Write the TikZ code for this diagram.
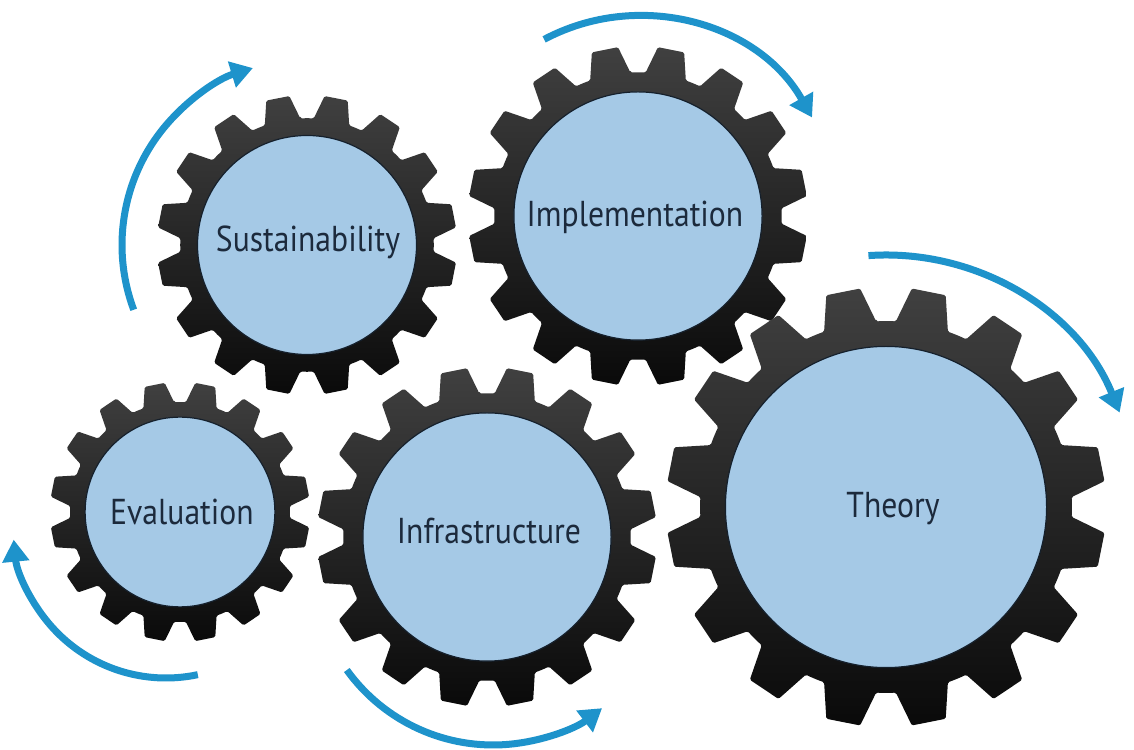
\documentclass[tikz,border=0pt]{standalone}
\usepackage{fontspec}
\newfontfamily\gearfont[FakeStretch=0.88]{PT Sans}
\usetikzlibrary{arrows.meta}
\definecolor{gearblue}{HTML}{A5C9E6}
\definecolor{arrowblue}{HTML}{1E93CB}
\definecolor{textnavy}{HTML}{1C2A3C}
\definecolor{geartop}{HTML}{404040}
\definecolor{gearbot}{HTML}{0A0A0A}
\definecolor{rimline}{HTML}{15202C}

\tikzset{
  gearface/.style={circle, fill=gearblue, draw=rimline, line width=1.2pt, inner sep=0pt},
  gearlabel/.style={inner sep=0pt, font=\gearfont\fontsize{36}{40}\selectfont, text=textnavy},
  turnarrow/.style={draw=arrowblue, line width=7pt, -{Triangle[length=22pt,width=26pt]}},
}

% #1 name, #2 x, #3 y, #4 outer radius
\newcommand\drawgear[4]{%
  \begin{scope}[shift={(#2,#3)}]
    \pgfmathsetmacro\gR{#4}
    \pgfmathsetmacro\gr{0.845*#4}
    \shade[top color=geartop, bottom color=gearbot, rounded corners=1.5pt]
      ({101.25-8.2}:\gr)
      \foreach \a in {101.25,123.75,...,438.75} {
        -- ({\a-4.5}:\gR) -- ({\a+4.5}:\gR) -- ({\a+8.2}:\gr)
        arc[start angle={\a+8.2}, end angle={\a+14.3}, radius=\gr]
      } -- cycle;
  \end{scope}
  \node[gearface, minimum size={2*0.73*#4}] (#1) at (#2,#3) {};
  \coordinate (#1-c) at (#2,#3);
}

\begin{document}
\begin{tikzpicture}[x=1pt, y=1pt]
  \fill[white] (0,0) rectangle (1134,749);
  \useasboundingbox (0,0) rectangle (1134,749);

  \drawgear{sust}{307}{504}{150}
  \drawgear{impl}{638}{533}{170}
  \drawgear{eval}{180}{237}{130}
  \drawgear{infra}{487}{212}{170}
  \drawgear{theory}{886}{242}{220}

  \node[gearlabel] (sust-t)   at (308,507) {Sustainability};
  \node[gearlabel] (impl-t)   at (635,532) {Implementation};
  \node[gearlabel] (eval-t)   at (182,237) {Evaluation};
  \node[gearlabel] (infra-t)  at (489,218) {Infrastructure};
  \node[gearlabel] (theory-t) at (893,240) {Theory};

  \coordinate (a5c) at (166,224);
  \coordinate (a4c) at (493,184);

  \draw[turnarrow] ([shift={(200.5:185)}]sust-c) arc[start angle=200.5, end angle=107, radius=185];
  \draw[turnarrow] ([shift={(118:200)}]impl-c) arc[start angle=118, end angle=29.5, radius=200];
  \draw[turnarrow] ([shift={(94:252)}]theory-c) arc[start angle=94, end angle=22, radius=252];
  \draw[turnarrow] ([shift={(215.7:180)}]a4c) arc[start angle=215.7, end angle=307.3, radius=180];
  \draw[turnarrow] ([shift={(282:153)}]a5c) arc[start angle=282, end angle=185.5, radius=153];
\end{tikzpicture}
\end{document}
